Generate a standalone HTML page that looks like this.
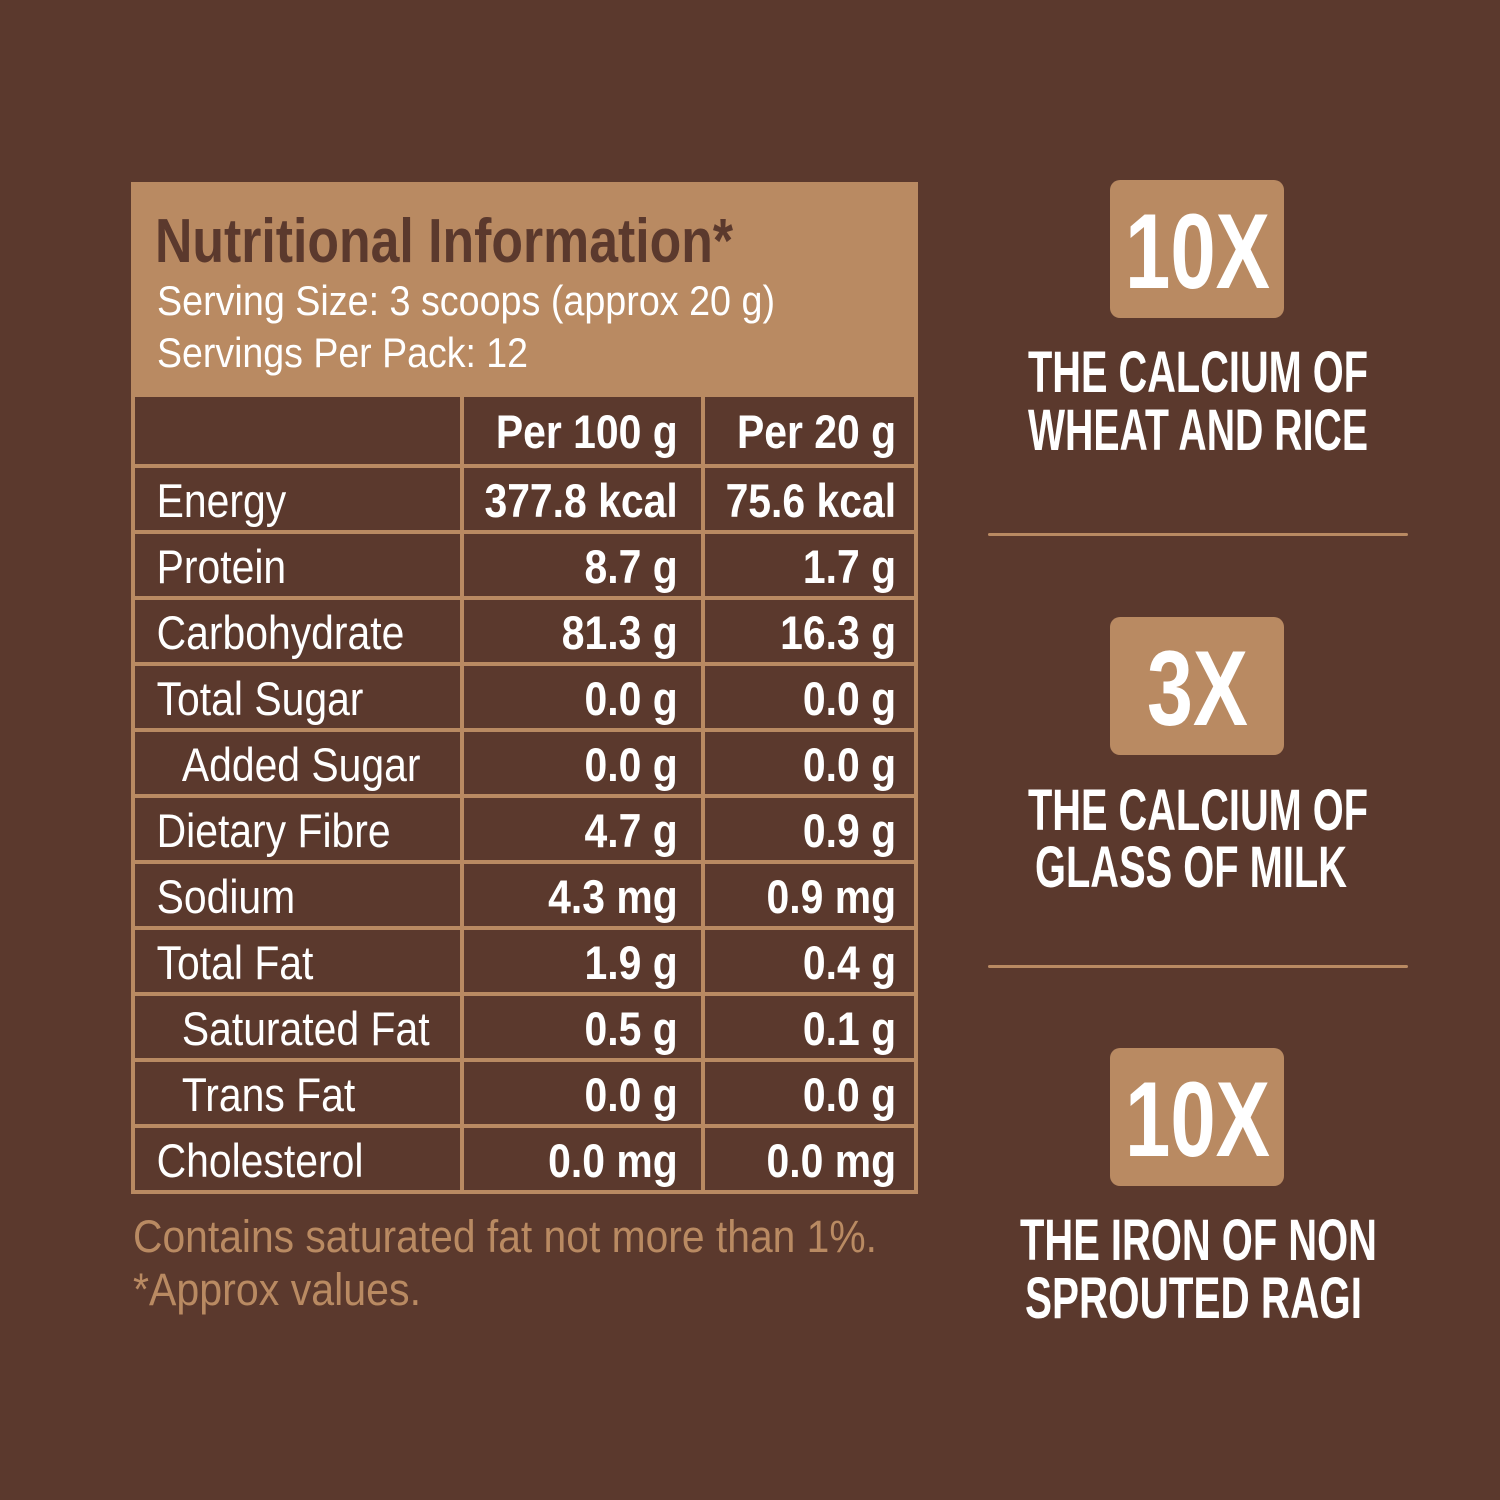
<!DOCTYPE html>
<html><head><meta charset="utf-8"><style>
html,body{margin:0;padding:0;background:#5b392d;}
svg{display:block}
text{font-family:"Liberation Sans",sans-serif;}
</style></head><body>
<svg width="1500" height="1500" viewBox="0 0 1500 1500" xmlns="http://www.w3.org/2000/svg">
<rect width="1500" height="1500" fill="#5b392d"/>
<!-- header -->
<rect x="131" y="182" width="787" height="215" fill="#b98a62"/>
<text x="155" y="262" font-size="62" font-weight="bold" fill="#5b392d" textLength="578" lengthAdjust="spacingAndGlyphs">Nutritional Information*</text>
<text x="157" y="315" font-size="42" fill="#fff" textLength="618" lengthAdjust="spacingAndGlyphs">Serving Size: 3 scoops (approx 20 g)</text>
<text x="157" y="367" font-size="42" fill="#fff" textLength="371" lengthAdjust="spacingAndGlyphs">Servings Per Pack: 12</text>
<!-- grid -->
<g fill="#b98a62">
<rect x="131" y="396" width="4" height="798"/>
<rect x="914" y="396" width="4" height="798"/>
<rect x="460" y="396" width="4" height="798"/>
<rect x="701" y="396" width="4" height="798"/>
<rect x="131" y="464" width="787" height="4"/>
<rect x="131" y="530" width="787" height="4"/>
<rect x="131" y="596" width="787" height="4"/>
<rect x="131" y="662" width="787" height="4"/>
<rect x="131" y="728" width="787" height="4"/>
<rect x="131" y="794" width="787" height="4"/>
<rect x="131" y="860" width="787" height="4"/>
<rect x="131" y="926" width="787" height="4"/>
<rect x="131" y="992" width="787" height="4"/>
<rect x="131" y="1058" width="787" height="4"/>
<rect x="131" y="1124" width="787" height="4"/>
<rect x="131" y="1190" width="787" height="4"/>
</g>
<g transform="scale(0.87,1)" fill="#fff" font-size="47">
<g font-weight="bold" text-anchor="end">
<text x="779" y="448">Per 100 g</text><text x="1030" y="448">Per 20 g</text>
<text x="779" y="517">377.8 kcal</text><text x="1030" y="517">75.6 kcal</text>
<text x="779" y="583">8.7 g</text><text x="1030" y="583">1.7 g</text>
<text x="779" y="649">81.3 g</text><text x="1030" y="649">16.3 g</text>
<text x="779" y="715">0.0 g</text><text x="1030" y="715">0.0 g</text>
<text x="779" y="781">0.0 g</text><text x="1030" y="781">0.0 g</text>
<text x="779" y="847">4.7 g</text><text x="1030" y="847">0.9 g</text>
<text x="779" y="913">4.3 mg</text><text x="1030" y="913">0.9 mg</text>
<text x="779" y="979">1.9 g</text><text x="1030" y="979">0.4 g</text>
<text x="779" y="1045">0.5 g</text><text x="1030" y="1045">0.1 g</text>
<text x="779" y="1111">0.0 g</text><text x="1030" y="1111">0.0 g</text>
<text x="779" y="1177">0.0 mg</text><text x="1030" y="1177">0.0 mg</text>
</g>
<text x="180" y="517">Energy</text>
<text x="180" y="583">Protein</text>
<text x="180" y="649">Carbohydrate</text>
<text x="180" y="715">Total Sugar</text>
<text x="209" y="781">Added Sugar</text>
<text x="180" y="847">Dietary Fibre</text>
<text x="180" y="913">Sodium</text>
<text x="180" y="979">Total Fat</text>
<text x="209" y="1045">Saturated Fat</text>
<text x="209" y="1111">Trans Fat</text>
<text x="180" y="1177">Cholesterol</text>
</g>
<text x="133" y="1252" font-size="45" fill="#b98a62" textLength="744" lengthAdjust="spacingAndGlyphs">Contains saturated fat not more than 1%.</text>
<text x="133" y="1305" font-size="45" fill="#b98a62" textLength="288" lengthAdjust="spacingAndGlyphs">*Approx values.</text>
<!-- right side -->
<g fill="#b98a62">
<rect x="1110" y="180" width="174" height="138" rx="10"/>
<rect x="1110" y="617" width="174" height="138" rx="10"/>
<rect x="1110" y="1048" width="174" height="138" rx="10"/>
<rect x="988" y="533" width="420" height="3" rx="1.5"/>
<rect x="988" y="965" width="420" height="3" rx="1.5"/>
</g>
<g fill="#fff" font-weight="bold">
<text x="1125" y="288" font-size="107" textLength="145" lengthAdjust="spacingAndGlyphs">10X</text>
<text x="1147" y="725" font-size="107" textLength="101" lengthAdjust="spacingAndGlyphs">3X</text>
<text x="1125" y="1156" font-size="107" textLength="145" lengthAdjust="spacingAndGlyphs">10X</text>
<g font-size="58">
<text x="1028" y="392" textLength="340" lengthAdjust="spacingAndGlyphs">THE CALCIUM OF</text>
<text x="1028" y="450" textLength="340" lengthAdjust="spacingAndGlyphs">WHEAT AND RICE</text>
<text x="1028" y="830" textLength="340" lengthAdjust="spacingAndGlyphs">THE CALCIUM OF</text>
<text x="1035" y="887" textLength="312" lengthAdjust="spacingAndGlyphs">GLASS OF MILK</text>
<text x="1020" y="1260" textLength="357" lengthAdjust="spacingAndGlyphs">THE IRON OF NON</text>
<text x="1025" y="1318" textLength="337" lengthAdjust="spacingAndGlyphs">SPROUTED RAGI</text>
</g>
</g>
</svg>
</body></html>
